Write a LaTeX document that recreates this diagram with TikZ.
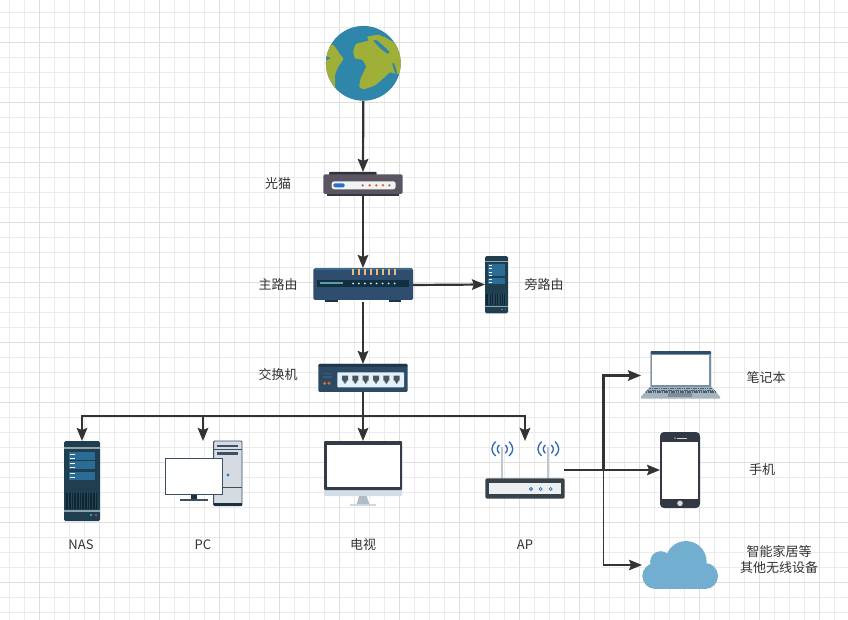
\documentclass[tikz,border=0pt]{standalone}
\usepackage{fontspec}
\setmainfont{Noto Sans CJK SC}
\usetikzlibrary{arrows.meta}
\definecolor{gridminor}{HTML}{EBEBEB}
\definecolor{gridmajor}{HTML}{DEDEDE}
\definecolor{ink}{HTML}{333333}
\definecolor{wifi}{RGB}{47,102,181}
\definecolor{pcline}{RGB}{60,79,99}
\definecolor{antenna}{RGB}{195,199,202}
\definecolor{ledblue}{RGB}{42,111,192}
\definecolor{keys}{RGB}{74,95,112}
\tikzset{
  iconbox/.style 2 args={inner sep=0pt,outer sep=0pt,minimum width=#1pt,minimum height=#2pt},
  conn/.style={draw=ink,line width=2.2pt,-{Stealth[length=13pt,width=10.5pt,inset=2pt]}},
  connthin/.style={conn,line width=1.7pt},
  txt/.style={text=ink,font=\fontsize{13}{16}\selectfont,align=center,inner sep=0pt},
  zoomed/.style 2 args={shift={(#1,#2)},x=0.33333pt,y=-0.33333pt}
}
\newcommand{\serverglyph}{%
  \fill[rounded corners=1.5pt,fill={rgb,255:red,31;green,62;blue,80}] (42,93) rectangle (150,333);
  \fill[fill={rgb,255:red,143;green,163;blue,173}] (42,112) rectangle (150,117);
  \foreach \a/\b in {127/150,153/177,186/209}{\fill[fill={rgb,255:red,42;green,108;blue,148}] (57,\a) rectangle (135,\b);}
  \foreach \a in {131,144,159,171,190,202}{\fill[white] (60,\a) rectangle (75,\a+3);}
  \fill[fill={rgb,255:red,14;green,37;blue,51}] (48,250) rectangle (142,298);
  \foreach \a in {54,62,...,138}{\fill[fill={rgb,255:red,40;green,70;blue,88}] (\a,250) rectangle (\a+2,298);}
  \fill[fill={rgb,255:red,143;green,163;blue,173}] (42,300) rectangle (150,306);
  \fill[fill={rgb,255:red,50;green,170;blue,120}] (119,313) rectangle (125,319);
  \fill[fill={rgb,255:red,200;green,50;blue,90}] (134,313) rectangle (140,319);
}
\begin{document}
\begin{tikzpicture}[x=1pt,y=-1pt]
\useasboundingbox (0,0) rectangle (848,620);
\fill[white] (0,0) rectangle (848,620);
% grid
\foreach \k in {0,...,56}{\draw[gridminor,line width=1pt] (9.5+15*\k,0) -- (9.5+15*\k,620);}
\foreach \k in {0,...,40}{\draw[gridminor,line width=1pt] (0,12.5+15*\k) -- (848,12.5+15*\k);}
\foreach \k in {0,...,13}{\draw[gridmajor,line width=1pt] (39.5+60*\k,0) -- (39.5+60*\k,620);}
\foreach \k in {0,...,9}{\draw[gridmajor,line width=1pt] (0,42.5+60*\k) -- (848,42.5+60*\k);}

% anchor boxes of the devices
\node[iconbox={75}{75}] (globe) at (363.3,63.3) {};
\node[iconbox={80}{23.5}] (modem) at (363,183.7) {};
\node[iconbox={100}{34}] (router) at (363,285) {};
\node[iconbox={23}{57}] (side) at (496.5,284.5) {};
\node[iconbox={90}{28}] (switch) at (363,378) {};
\node[iconbox={36}{80}] (nas) at (82,481) {};
\node[iconbox={78}{65}] (pc) at (203,473.5) {};
\node[iconbox={78}{65}] (tv) at (363,473.5) {};
\node[iconbox={78}{58}] (ap) at (525,470) {};
\node[iconbox={79}{49}] (laptop) at (680.5,375.5) {};
\node[iconbox={40}{76}] (phone) at (680,470) {};
\node[iconbox={76}{48}] (cloud) at (680,565) {};

% globe
\begin{scope}[zoomed={300}{10}]
  \fill[fill={rgb,255:red,46;green,134;blue,171}] (190,160) circle[radius=37.4pt];
  \begin{scope}
    \clip (190,160) circle[radius=37.4pt];
    \fill[fill={rgb,255:red,160;green,175;blue,55}] plot[smooth cycle,tension=.25] coordinates {(160,125)(168,102)(205,92)(202,80)(240,74)(265,88)(285,100)(300,130)(310,165)(296,192)(270,187)(258,198)(225,226)(190,238)(178,230)(182,205)(198,170)(187,150)(165,145)};
    \fill[fill={rgb,255:red,160;green,175;blue,55}] plot[smooth cycle,tension=.25] coordinates {(70,110)(100,105)(118,130)(130,147)(115,170)(105,195)(105,238)(85,215)(70,180)};
    \fill[fill={rgb,255:red,46;green,134;blue,171}] plot[smooth cycle,tension=.3] coordinates {(220,92)(232,92)(268,125)(262,131)(240,114)};
    \fill[fill={rgb,255:red,46;green,134;blue,171}] plot[smooth cycle,tension=.3] coordinates {(277,162)(282,160)(291,188)(286,190)};
    \fill[fill={rgb,255:red,46;green,134;blue,171}] (236,70) -- (262,84) -- (240,76) -- cycle;
    \fill[fill={rgb,255:red,46;green,134;blue,171}] (78,138) -- (92,145) -- (78,150) -- cycle;
  \end{scope}
\end{scope}

% modem
\begin{scope}[zoomed={300}{10}]
  \fill[fill={rgb,255:red,51;green,48;blue,60},rounded corners=.8pt] (87,486) rectangle (230,495);
  \fill[fill={rgb,255:red,58;green,53;blue,64}] (82,548) rectangle (297,557);
  \fill[fill={rgb,255:red,90;green,85;blue,96},rounded corners=1.5pt] (70,493) rectangle (308,552);
  \fill[fill={rgb,255:red,240;green,243;blue,243},rounded corners=2.5pt] (95,514) rectangle (287,538);
  \fill[fill={rgb,255:red,42;green,111;blue,208},rounded corners=1.5pt] (100,520) rectangle (134,532);
  \foreach \a in {188,209,229,249,268}{\fill[fill={rgb,255:red,226;green,106;blue,50}] (\a,526) circle[radius=1.4pt];}
\end{scope}

% main router, side router, switch
\begin{scope}[zoomed={300}{250}]
  \foreach \a in {75,266}{\fill[fill={rgb,255:red,28;green,51;blue,69}] (\a,145) rectangle (\a+38,156);}
  \fill[fill={rgb,255:red,47;green,77;blue,110},rounded corners=1.5pt] (40,55) rectangle (339,150);
  \fill[fill={rgb,255:red,58;green,106;blue,142}] (44,55) rectangle (335,60);
  \fill[fill={rgb,255:red,18;green,48;blue,63}] (52,90) rectangle (327,112);
  \fill[fill={rgb,255:red,95;green,158;blue,168}] (60,97) rectangle (128,101);
  \foreach \k in {0,...,7}{
    \fill[fill={rgb,255:red,238;green,187;blue,122}] (157+17.8*\k,57) rectangle (163+17.8*\k,75);
    \fill[fill={rgb,255:red,225;green,235;blue,240}] (159+17.8*\k,100.5) circle[radius=1pt];
  }
  % switch
  \fill[fill={rgb,255:red,44;green,74;blue,99},rounded corners=1.2pt] (55,342) rectangle (323,426);
  \fill[fill={rgb,255:red,31;green,53;blue,72},rounded corners=1.2pt] (55,342) rectangle (323,350);
  \fill[fill={rgb,255:red,227;green,241;blue,248},rounded corners=.8pt] (112,367) rectangle (312,412);
  \foreach \a in {368,379}{\fill[fill={rgb,255:red,63;green,90;blue,112}] (68,\a) rectangle (96,\a+4);}
  \foreach \a in {74,87}{\fill[fill={rgb,255:red,224;green,106;blue,48}] (\a,400) circle[radius=1.6pt];}
  \foreach \a in {135,166,197,228,259,290}{
    \fill[fill={rgb,255:red,74;green,85;blue,99}] (\a-9,377) -- (\a+9,377) -- (\a+9,392) -- (\a+5,392) -- (\a+5,397) -- (\a+2,397) -- (\a+2,401) -- (\a-2,401) -- (\a-2,397) -- (\a-5,397) -- (\a-5,392) -- (\a-9,392) -- cycle;
  }
\end{scope}
\begin{scope}[shift={(476.05,233.8)},x=0.213pt,y=-0.239pt]
  \serverglyph
\end{scope}

% NAS and PC
\begin{scope}[zoomed={50}{410}]
  \serverglyph
  \filldraw[fill={rgb,255:red,213;green,219;blue,225},draw=pcline,line width=.9pt,rounded corners=1pt] (491,93) rectangle (576,287);
  \fill[fill={rgb,255:red,28;green,48;blue,64}] (491,280) rectangle (576,287);
  \fill[fill={rgb,255:red,58;green,80;blue,104}] (502,105) rectangle (565,110);
  \fill[fill={rgb,255:red,58;green,80;blue,104}] (502,125) rectangle (565,136);
  \draw[pcline,line width=.7pt] (491,118) -- (576,118);
  \draw[pcline,line width=.7pt] (491,232) -- (576,232);
  \fill[fill={rgb,255:red,42;green,122;blue,224}] (534,195) circle[radius=1.6pt];
  \fill[fill={rgb,255:red,28;green,48;blue,64}] (423,253) rectangle (441,268);
  \fill[fill={rgb,255:red,60;green,80;blue,96}] (390,268) rectangle (474,273);
  \filldraw[fill=white,draw=pcline,line width=1pt] (346,145) rectangle (518,253);
\end{scope}

% TV and AP
\begin{scope}[zoomed={310}{410}]
  \fill[fill={rgb,255:red,211;green,221;blue,230},rounded corners=1pt] (42,235) rectangle (276,258);
  \fill[fill={rgb,255:red,51;green,60;blue,72},rounded corners=1pt] (42,93) rectangle (276,240);
  \fill[white] (50,106) rectangle (269,232);
  \fill[fill={rgb,255:red,176;green,188;blue,196}] (147,258) -- (170,258) -- (178,283) -- (140,283) -- cycle;
  \fill[fill={rgb,255:red,207;green,216;blue,222}] (120,283) rectangle (198,288);
  % AP
  \foreach \a in {577,715}{
    \draw[antenna,line width=1.8pt] (\a,112) -- (\a,206);
    \draw[wifi,line width=1.3pt] (\a-20,95) .. controls (\a-35,110) and (\a-35,125) .. (\a-20,138);
    \draw[wifi,line width=1.3pt] (\a+20,95) .. controls (\a+35,110) and (\a+35,125) .. (\a+20,138);
    \draw[wifi,line width=1.3pt] (\a-9,105) .. controls (\a-17,112) and (\a-17,122) .. (\a-9,130);
    \draw[wifi,line width=1.3pt] (\a+9,105) .. controls (\a+17,112) and (\a+17,122) .. (\a+9,130);
  }
  \fill[fill={rgb,255:red,55;green,66;blue,74},rounded corners=1.5pt] (526,205) rectangle (764,266);
  \fill[fill={rgb,255:red,236;green,238;blue,239}] (537,218) rectangle (753,252);
  \foreach \a in {663,692,722}{\draw[ledblue,fill=white,line width=.8pt] (\a,237) circle[radius=1.5pt];}
\end{scope}

% laptop, phone, cloud
\begin{scope}[zoomed={590}{340}]
  \fill[fill={rgb,255:red,165;green,181;blue,192}] (182,138) -- (363,138) -- (390,170) -- (390,176) -- (153,176) -- (153,170) -- cycle;
  \fill[fill={rgb,255:red,47;green,77;blue,104},rounded corners=.8pt] (182,33) rectangle (363,140);
  \fill[fill={rgb,255:red,120;green,145;blue,165}] (182,42) rectangle (363,140);
  \fill[white] (187,44) rectangle (358,136);
  \foreach \a/\b/\c in {178/367/146,172/373/151,167/378/156}{
    \draw[keys,line width=1.1pt,dash pattern=on 1.6pt off .7pt] (\a,\c) -- (\b,\c);
  }
  \fill[fill={rgb,255:red,125;green,142;blue,154}] (235,160) rectangle (305,170);
  % phone
  \fill[fill={rgb,255:red,51;green,56;blue,69},rounded corners=4pt] (210,276) rectangle (330,504);
  \fill[white] (217,307) rectangle (323,477);
  \fill[fill={rgb,255:red,216;green,216;blue,216}] (270,490) circle[radius=2.8pt];
  \fill[fill={rgb,255:red,210;green,210;blue,215}] (262,293) rectangle (290,296);
  \fill[fill={rgb,255:red,210;green,210;blue,215}] (255,294.5) circle[radius=.8pt];
  % cloud
  \fill[fill={rgb,255:red,114;green,174;blue,208}]
    (288,665) circle[radius=20.6pt]
    (345,708) circle[radius=13pt]
    (196,708) circle[radius=13pt]
    (212,665) circle[radius=10.5pt];
  \fill[fill={rgb,255:red,114;green,174;blue,208}] (196,670) rectangle (345,747);
\end{scope}

% connectors
\draw[conn] (globe.south) -- (modem.north);
\draw[conn] (modem.south) -- (router.north);
\draw[conn] (router.south) -- (switch.north);
\draw[conn] (router.east) -- (side.west);
\coordinate (bus) at (363,416);
\draw[draw=ink,line width=2.2pt] (switch.south) -- (bus);
\draw[conn] (bus) -| (nas.north);
\draw[conn] (bus) -| (pc.north);
\draw[conn] (bus) -- (tv.north);
\draw[conn] (bus) -| (ap.north);
\coordinate (hub) at (603.5,470);
\draw[conn] (ap.east) -- (hub) |- (laptop.west);
\draw[connthin] (ap.east) -- (phone.west);
\draw[connthin] (hub) |- (cloud.west);

% labels
\node[txt] (lmodem) at (278,184) {光猫};
\node[txt] (lrouter) at (278,285) {主路由};
\node[txt] (lside) at (544,285) {旁路由};
\node[txt] (lswitch) at (278,375) {交换机};
\node[txt] (lnas) at (81,545) {NAS};
\node[txt] (lpc) at (203,545) {PC};
\node[txt] (ltv) at (363,545) {电视};
\node[txt] (lap) at (525,545) {AP};
\node[txt] (llaptop) at (766,378) {笔记本};
\node[txt] (lphone) at (762,470) {手机};
\node[txt] (lcloud) at (779,560) {智能家居等\\其他无线设备};
\end{tikzpicture}
\end{document}
